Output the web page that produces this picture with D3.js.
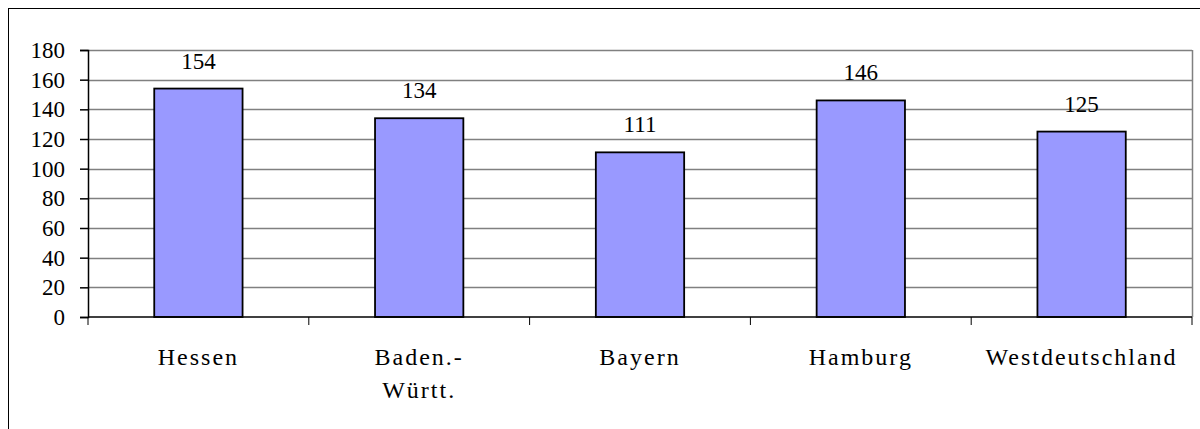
<!DOCTYPE html>
<html>
<head>
<meta charset="utf-8">
<script src="https://cdn.jsdelivr.net/npm/d3@7"></script>
<style>
    body { margin: 0; background: #fff; }
</style>
</head>
<body>
<div id="chart"></div>
<script>
// data
let categories = [["Hessen"], ["Baden.-", "Württ."], ["Bayern"], ["Hamburg"], ["Westdeutschland"]];
let values = [154, 134, 111, 146, 125];
let yTicks = [0, 20, 40, 60, 80, 100, 120, 140, 160, 180];

let w = 1200;
let h = 429;
let plotLeft = 88, plotRight = 1192, plotTop = 50, plotBottom = 317;
let fontName = "'Liberation Serif'";

let svg = d3.select("#chart")
    .append("svg")
    .attr("width", w)
    .attr("height", h);

// outer frame (runs off the right and bottom edges)
svg.append("rect")
    .attr("x", 8.5)
    .attr("y", 8.5)
    .attr("width", w)
    .attr("height", h)
    .attr("fill", "none")
    .attr("stroke", "#000")
    .attr("stroke-width", 1);

let x = d3.scaleBand()
    .domain(d3.range(values.length))
    .range([plotLeft, plotRight])
    .paddingInner(0.6)
    .paddingOuter(0.3);

let y = d3.scaleLinear()
    .domain([0, 180])
    .range([plotBottom, plotTop]);

// gridlines
svg.selectAll("line.grid")
    .data(yTicks.filter(function (d) { return d > 0; }))
    .enter()
    .append("line")
    .attr("class", "grid")
    .attr("x1", plotLeft)
    .attr("x2", plotRight)
    .attr("y1", function (d) { return Math.round(y(d)) + 0.5; })
    .attr("y2", function (d) { return Math.round(y(d)) + 0.5; })
    .attr("stroke", "#808080")
    .attr("stroke-width", 1.5);

// right edge of plot area
svg.append("line")
    .attr("x1", plotRight + 0.5)
    .attr("x2", plotRight + 0.5)
    .attr("y1", y(180))
    .attr("y2", plotBottom)
    .attr("stroke", "#808080")
    .attr("stroke-width", 1.5);

// bars
svg.selectAll("rect.bar")
    .data(values)
    .enter()
    .append("rect")
    .attr("class", "bar")
    .attr("x", function (d, i) { return x(i); })
    .attr("y", function (d) { return y(d); })
    .attr("width", x.bandwidth())
    .attr("height", function (d) { return plotBottom - y(d); })
    .attr("fill", "#9999ff")
    .attr("stroke", "#000")
    .attr("stroke-width", 1.8);

// value labels
svg.selectAll("text.val")
    .data(values)
    .enter()
    .append("text")
    .attr("class", "val")
    .text(function (d) { return d; })
    .attr("text-anchor", "middle")
    .attr("x", function (d, i) { return x(i) + x.bandwidth() / 2; })
    .attr("y", function (d) { return y(d) - 20; })
    .style("font-family", fontName)
    .style("font-size", "23px")
    .attr("fill", "#000");

// y axis
let yAxis = svg.append("g")
    .attr("transform", "translate(" + plotLeft + ",0)")
    .call(d3.axisLeft(y).tickValues(yTicks).tickSize(8).tickPadding(15));
yAxis.select(".domain").attr("stroke", "#000").attr("stroke-width", 1.5);
yAxis.selectAll(".tick line").attr("stroke", "#000").attr("stroke-width", 1.5);
yAxis.selectAll(".tick text")
    .style("font-family", fontName)
    .style("font-size", "23px")
    .attr("fill", "#000");

// x axis line and category boundary ticks
svg.append("line")
    .attr("x1", plotLeft)
    .attr("x2", plotRight)
    .attr("y1", plotBottom)
    .attr("y2", plotBottom)
    .attr("stroke", "#000")
    .attr("stroke-width", 1.5);

let step = x.step();
svg.selectAll("line.xtick")
    .data(d3.range(values.length + 1))
    .enter()
    .append("line")
    .attr("class", "xtick")
    .attr("x1", function (d) { return plotLeft + d * step; })
    .attr("x2", function (d) { return plotLeft + d * step; })
    .attr("y1", plotBottom)
    .attr("y2", plotBottom + 8)
    .attr("stroke", "#000")
    .attr("stroke-width", 1);

// category labels
let cat = svg.selectAll("text.cat")
    .data(categories)
    .enter()
    .append("text")
    .attr("class", "cat")
    .attr("text-anchor", "middle")
    .style("font-family", fontName)
    .style("font-size", "24px")
    .style("letter-spacing", "2px")
    .attr("fill", "#000")
    .attr("x", function (d, i) { return x(i) + x.bandwidth() / 2; })
    .attr("y", 365);

cat.selectAll("tspan")
    .data(function (d) { return d; })
    .enter()
    .append("tspan")
    .attr("x", function () { return d3.select(this.parentNode).attr("x"); })
    .attr("dy", function (d, i) { return i === 0 ? 0 : 33; })
    .text(function (d) { return d; });
</script>
</body>
</html>
